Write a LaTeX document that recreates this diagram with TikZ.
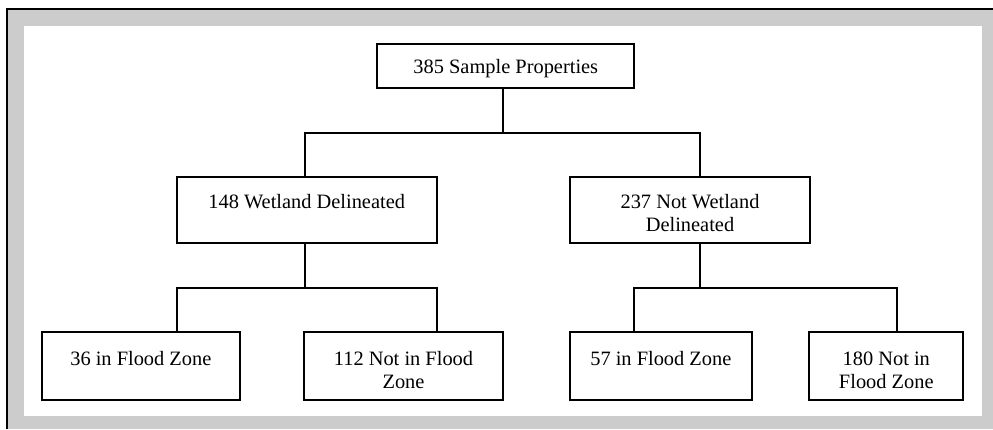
\documentclass[tikz,border=0pt]{standalone}
\usepackage{fontspec}
\setmainfont{Liberation Serif}
\definecolor{framegray}{RGB}{204,204,204}
\tikzset{
  box/.style={draw=black, line width=1.3pt, rectangle, inner sep=0pt, outer sep=0pt, fill=white},
  txt/.style={anchor=north, align=center, inner sep=0pt, font=\fontsize{15.3pt}{17.25pt}\selectfont},
  link/.style={draw=black, line width=1.3pt, line cap=rect}
}
\begin{document}
\begin{tikzpicture}[x=0.75pt, y=-0.75pt]
\useasboundingbox (0,0) rectangle (993,429);
% frame
\fill[framegray] (7,9) rectangle (993,429);
\fill[white] (24,26) rectangle (982,416);
\draw[black, line width=0.9pt] (7,429) -- (7,9) -- (993,9);

% boxes
\node[box, minimum width=192.75pt, minimum height=32.8pt] (tp) at (505.8,65.85) {};
\node[box, minimum width=195pt, minimum height=50pt] (ml) at (306.7,210) {};
\node[box, minimum width=180pt, minimum height=50pt] (mr) at (690,210) {};
\node[box, minimum width=148.8pt, minimum height=51.2pt] (b1) at (140.85,365.85) {};
\node[box, minimum width=148.8pt, minimum height=51.2pt] (b2) at (403.5,365.85) {};
\node[box, minimum width=136.3pt, minimum height=51.2pt] (b3) at (660.85,365.85) {};
\node[box, minimum width=115.5pt, minimum height=51.2pt] (b4) at (886.3,365.85) {};

% texts
\node[txt] (ttp) at ([yshift=-9.9pt]tp.north) {\strut 385 Sample Properties};
\node[txt] (tml) at ([yshift=-11.6pt]ml.north) {\strut 148 Wetland Delineated};
\node[txt] (tmr) at ([yshift=-11.6pt]mr.north) {\strut 237 Not Wetland\\\strut Delineated};
\node[txt] (tb1) at ([yshift=-12.9pt]b1.north) {\strut 36 in Flood Zone};
\node[txt] (tb2) at ([yshift=-12.9pt]b2.north) {\strut 112 Not in Flood\\\strut Zone};
\node[txt] (tb3) at ([yshift=-12.9pt]b3.north) {\strut 57 in Flood Zone};
\node[txt] (tb4) at ([yshift=-12.9pt]b4.north) {\strut 180 Not in\\\strut Flood Zone};

% junction coordinates
\coordinate (tpout) at (503.3,87.7);
\coordinate (hA) at (503.3,132.7);
\coordinate (mlin) at (305,176.7);
\coordinate (mrin) at (700,176.7);
\coordinate (mlout) at (305,243.3);
\coordinate (mrout) at (700,243.5);
\coordinate (b1in) at (176.7,331.7);
\coordinate (b2in) at (437.3,331.7);
\coordinate (b3in) at (634,331.7);
\coordinate (b4in) at (897.3,331.7);

% connectors
\draw[link] (tpout) -- (hA);
\draw[link] (mlin) |- (hA) -| (mrin);
\draw[link] (mlout) -- (305,287.7);
\draw[link] (b1in) |- (305,287.7) -| (b2in);
\draw[link] (mrout) -- (700,287.7);
\draw[link] (b3in) |- (700,287.7) -| (b4in);
\end{tikzpicture}
\end{document}
